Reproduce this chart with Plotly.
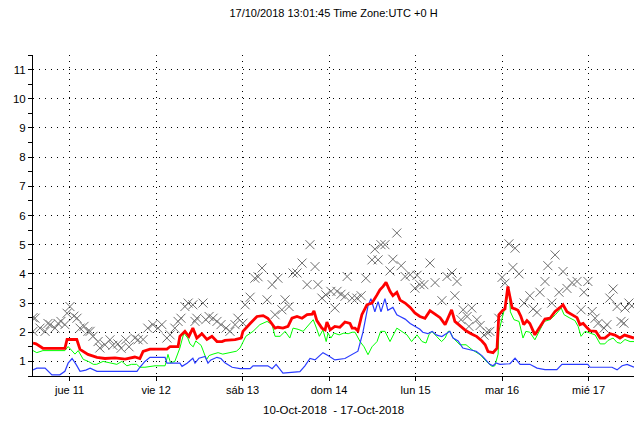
import pandas as pd
import plotly.graph_objects as go

BASE = pd.Timestamp("2018-10-10 00:00")

# hours since 2018-10-10 00:00 UTC and values
red_hours = [13.85, 14.7, 16.6, 22.7, 23.3, 26.0, 26.9, 29.1, 31.6, 33.8, 36.6, 39.4, 42.1, 43.5, 44.4, 46.3, 51.0, 51.9,
             54.1, 54.6, 56.0, 57.1, 58.2, 59.3, 60.7, 62.1, 63.5, 64.9, 66.3, 67.1, 69.9, 71.6, 72.1, 73.2, 74.1, 76.0,
             77.7, 79.0, 80.2, 81.0, 81.8, 83.2, 84.6, 85.7, 87.1, 88.5, 89.9, 91.3, 91.8, 92.6, 94.0, 94.9, 95.4, 96.3,
             97.6, 99.0, 100.4, 101.8, 102.4, 103.2, 104.0, 105.1, 106.5, 107.9, 109.3, 110.1, 111.0, 111.8, 112.9,
             113.7, 114.8, 115.7, 117.1, 118.5, 119.8, 121.2, 122.6, 124.0, 125.4, 126.8, 128.2, 129.0, 130.0, 130.9,
             132.5, 134.0, 135.4, 137.0, 138.4, 139.3, 140.1, 141.5, 142.6, 143.1, 144.2, 144.8, 145.6, 146.2, 146.8,
             147.6, 148.4, 149.2, 150.0, 150.9, 151.7, 153.1, 154.5, 155.9, 157.3, 158.7, 160.1, 160.9, 162.0, 163.4,
             164.8, 165.6, 166.5, 167.6, 168.4, 170.0, 171.2, 172.5, 174.0, 175.3, 176.7, 178.0, 180.0, 180.6]
red_values = [1.63, 1.6, 1.45, 1.45, 1.75, 1.75, 1.41, 1.24, 1.14, 1.1, 1.12, 1.08, 1.15, 1.1, 1.34, 1.42, 1.42, 1.51,
              1.51, 1.86, 2.03, 1.86, 2.14, 1.8, 1.95, 1.75, 1.86, 1.68, 1.68, 1.72, 1.75, 1.8, 2.03, 2.2, 2.3, 2.54,
              2.57, 2.48, 2.3, 2.14, 2.17, 2.14, 2.2, 2.48, 2.54, 2.48, 2.6, 2.62, 2.73, 2.4, 2.14, 2.08, 2.35, 2.08,
              2.2, 2.17, 2.35, 2.3, 2.14, 2.14, 2.05, 2.6, 2.94, 3.0, 3.28, 3.45, 3.57, 3.71, 3.4,
              3.25, 3.37, 3.1, 3.0, 2.85, 2.66, 2.54, 2.48, 2.74, 2.62, 2.5, 2.26, 2.5, 2.77, 2.37,
              2.2, 2.05, 1.95, 1.85, 1.7, 1.57, 1.34, 1.3, 1.45, 2.6, 2.75, 2.8, 3.57, 3.2, 2.83,
              2.8, 2.75, 2.55, 2.26, 2.4, 2.3, 1.91, 2.2, 2.45, 2.48, 2.71, 2.85, 2.94, 2.7, 2.6,
              2.5, 2.26, 2.3, 2.15, 2.05, 2.03, 1.8, 1.8, 1.95, 1.9, 1.8, 1.9, 1.82, 1.8]

green_hours = [13.85, 14.9, 16.6, 22.7, 23.6, 24.6, 25.5, 26.4, 27.8, 29.2, 30.6, 31.5, 33.3, 35.2, 37.1, 38.5, 39.9,
               41.2, 42.6, 43.5, 44.9, 47.7, 50.5, 51.3, 52.0, 53.2, 54.6, 55.7, 56.8, 57.4, 58.3, 59.0, 60.5, 62.0,
               62.7, 63.8, 65.2, 66.5, 68.5, 70.3, 71.3, 71.8, 72.9, 74.9, 76.8, 78.8, 80.2, 81.0, 82.4, 83.8, 85.1,
               86.0, 87.4, 88.8, 89.9, 91.6, 92.5, 93.3, 94.3, 95.2, 95.7, 96.5, 97.4, 98.8, 100.1, 101.3, 102.4,
               103.2, 104.6, 105.7, 106.8, 107.9, 109.3, 110.3, 111.5, 112.9, 114.8, 116.2, 117.6, 118.9, 120.4,
               121.8, 122.9, 123.7, 124.5, 125.8, 127.2, 128.2, 129.0, 129.5, 130.4, 132.3, 134.0, 135.7, 137.9,
               140.1, 141.2, 142.0, 142.9, 143.1, 144.3, 145.4, 146.0, 146.3, 147.3, 148.7, 149.8, 150.6, 151.7,
               153.1, 154.2, 155.7, 157.3, 158.8, 160.4, 161.2, 162.6, 164.2, 165.1, 165.9, 167.0, 168.2, 169.8,
               171.2, 172.5, 173.4, 174.8, 175.9, 176.9, 178.1, 179.5, 180.6]
green_values = [1.37, 1.3, 1.37, 1.37, 1.51, 1.37, 1.25, 1.37, 1.07, 1.0, 0.9, 0.9, 1.0, 0.95, 0.9, 1.0, 0.85,
                0.9, 0.9, 0.8, 0.8, 0.85, 0.85, 1.24, 0.95, 1.0, 1.46, 1.97, 1.8, 1.6, 1.5, 1.7, 1.55, 1.06,
                1.2, 1.25, 1.3, 1.25, 1.3, 1.35, 1.46, 1.6, 1.86, 2.03, 2.26, 2.37, 2.26, 1.86, 1.86, 2.03, 1.8,
                2.14, 2.1, 2.03, 2.2, 2.43, 2.14, 1.86, 2.08, 1.68, 1.97, 1.8, 1.97, 1.91, 1.97, 1.95, 2.0,
                2.0, 1.68, 1.5, 1.23, 1.5, 1.68, 2.03, 2.03, 1.68, 2.14, 2.03, 1.91, 1.68, 1.91,
                1.68, 1.63, 1.91, 2.03, 1.86, 1.68, 1.8, 2.03, 2.03, 1.8, 1.57, 1.57, 1.4, 1.23,
                0.94, 0.83, 0.85, 1.25, 2.03, 2.6, 3.1, 3.45, 2.7, 2.43, 2.37, 1.8, 2.03, 2.0,
                1.74, 2.0, 2.37, 2.43, 2.6, 2.83, 2.6, 2.5, 2.4, 2.2, 1.86, 2.03, 1.97, 1.91,
                1.6, 1.6, 1.72, 1.8, 1.65, 1.62, 1.75, 1.68, 1.68]

blue_hours = [13.85, 14.9, 17.2, 18.6, 19.1, 21.3, 22.7, 23.6, 24.7, 25.8, 26.9, 28.5, 29.7, 31.6, 42.7, 43.5, 44.9,
              46.3, 50.5, 51.0, 54.6, 55.2, 56.6, 58.2, 58.8, 59.9, 61.6, 62.4, 63.2, 64.9, 66.0, 67.1, 69.1, 71.3,
              74.1, 74.9, 79.0, 80.2, 81.3, 83.2, 87.9, 89.3, 90.7, 92.1, 94.3, 95.7, 97.6, 100.4, 102.4, 104.0,
              105.4, 106.8, 107.6, 108.7, 109.6, 110.4, 111.5, 112.3, 113.7, 114.8, 115.7, 117.1, 118.5, 119.8,
              121.2, 122.0, 123.4, 124.6, 125.9, 127.3, 128.7, 129.5, 130.4, 131.8, 133.1, 135.1, 136.8, 138.4,
              139.8, 140.6, 141.5, 142.3, 143.4, 146.2, 147.6, 149.0, 151.7, 153.7, 155.9, 159.2, 160.6, 167.8,
              168.4, 174.5, 175.9, 177.3, 178.7, 180.6]
blue_values = [0.71, 0.77, 0.77, 0.62, 0.54, 0.54, 0.66, 0.94, 1.1, 0.9, 0.66, 0.7, 0.77, 0.66, 0.66, 0.8, 1.0,
               1.14, 1.14, 0.94, 0.94, 0.83, 0.94, 1.11, 0.94, 1.11, 1.17, 0.94, 1.05, 1.14, 1.1, 0.95, 0.8, 0.75,
               0.75, 0.85, 0.85, 0.75, 0.9, 0.6, 0.65, 0.85, 1.1, 1.05, 1.3, 1.2, 1.05, 1.1, 1.25, 1.35,
               2.0, 2.9, 3.15, 2.7, 3.05, 2.7, 3.15, 2.75, 2.85, 2.6, 2.54, 2.45, 2.3, 2.2,
               2.1, 2.0, 1.95, 2.03, 1.9, 1.85, 1.95, 2.03, 1.8, 1.7, 1.46, 1.4, 1.35, 1.2,
               1.0, 0.9, 0.85, 0.95, 0.9, 0.92, 1.11, 0.9, 0.9, 0.77, 0.72, 0.72, 0.9, 0.9,
               0.8, 0.8, 0.71, 0.85, 0.9, 0.8]

x_hours = [13.85, 13.85, 14.4, 15.8, 17.2, 18.0, 18.6, 19.95, 20.8, 21.6, 22.7, 23.3, 24.1, 25.2, 26.05, 26.9, 28.0,
           29.1, 29.7, 30.5, 31.9, 32.4, 33.8, 35.2, 36.0, 37.4, 38.3, 39.6, 40.5, 42.1, 43.0, 44.4, 45.7, 47.1,
           48.5, 49.6, 51.0, 51.9, 53.2, 54.1, 54.9, 56.0, 56.9, 58.2, 58.8, 59.3, 61.0, 61.8, 62.7, 63.8, 64.9,
           66.0, 67.4, 68.5, 69.9, 70.7, 72.1, 72.7, 74.1, 75.4, 76.3, 77.4, 78.8, 80.2, 81.0, 81.8, 82.9, 83.8,
           84.9, 86.0, 87.1, 88.5, 89.9, 90.7, 92.1, 92.9, 94.0, 95.1, 96.5, 97.6, 98.2, 99.3, 100.4, 101.0,
           102.4, 103.7, 104.9, 106.2, 107.9, 108.7, 109.6, 110.4, 111.5, 112.9, 113.7, 114.8, 116.0, 117.1,
           118.5, 119.8, 120.4, 121.2, 122.3, 124.0, 125.4, 127.3, 128.7, 130.1, 130.9, 131.5, 132.6, 133.2,
           134.3, 134.8, 135.6, 137.0, 137.9, 139.0, 139.8, 140.6, 143.1, 144.0, 144.8, 145.9, 147.0, 147.6,
           148.7, 150.1, 151.7, 152.6, 153.7, 154.5, 155.9, 156.7, 157.8, 158.7, 159.8, 160.9, 162.0, 163.4,
           164.8, 165.9, 166.7, 167.8, 169.0, 169.8, 170.6, 172.3, 173.1, 173.9, 174.8, 175.9, 177.0, 177.8,
           178.1, 179.2, 180.0]
x_values = [2.03, 2.5, 2.48, 2.14, 2.03, 2.3, 2.26, 2.14, 2.3, 2.37, 2.26, 2.65, 2.88, 2.55, 2.48, 2.14, 2.2,
            2.03, 2.03, 1.86, 1.68, 1.46, 1.57, 1.74, 1.55, 1.6, 1.45, 1.74, 1.5, 1.8, 1.74, 1.75, 2.14, 2.26,
            2.14, 2.26, 1.8, 1.91, 2.14, 2.37, 2.48, 2.88, 3.0, 2.94, 2.37, 2.48, 3.0, 2.43, 2.54, 2.48, 2.37,
            2.26, 2.14, 2.03, 2.26, 2.48, 2.31, 2.94, 3.2, 3.85, 3.9, 4.2, 3.11, 3.63, 2.6, 3.85, 2.77, 3.11,
            2.88, 4.03, 4.03, 4.37, 3.63, 5.0, 4.25, 3.63, 3.17, 3.28, 3.4, 2.83, 3.4, 3.3, 3.23, 3.91,
            3.17, 3.17, 3.25, 3.85, 4.48, 4.85, 4.48, 5.0, 5.0, 4.1, 4.5, 5.4, 4.28, 3.91,
            3.97, 3.51, 3.95, 3.63, 3.63, 4.37, 3.7, 3.08, 3.91, 4.03, 3.25, 3.74, 2.43, 2.77,
            2.54, 2.2, 2.83, 2.43, 2.23, 1.9, 2.0, 2.03, 2.48, 3.88, 3.68, 5.03, 4.22, 4.88,
            4.0, 3.0, 3.25, 2.8, 2.68, 3.37, 3.74, 4.28, 3.0, 4.65, 3.37, 4.08, 3.5, 3.7,
            3.74, 2.77, 3.37, 3.74, 2.71, 2.48, 2.3, 2.14, 2.26, 3.17, 3.48, 2.88, 2.37, 2.31,
            2.83, 3.0, 2.9]

day_ticks = ["2018-10-11", "2018-10-12", "2018-10-13", "2018-10-14", "2018-10-15", "2018-10-16", "2018-10-17"]
day_labels = ["jue 11", "vie 12", "sáb 13", "dom 14", "lun 15", "mar 16", "mié 17"]
y_ticks = list(range(1, 12))

title_text = "17/10/2018 13:01:45 Time Zone:UTC +0 H"
xaxis_text = "10-Oct-2018  - 17-Oct-2018"


def to_time(hours):
    return BASE + pd.to_timedelta(pd.Series(hours), unit="h")


FONT = "Liberation Sans, Arial, sans-serif"

fig = go.Figure()
fig.add_trace(go.Scatter(x=to_time(x_hours), y=x_values, mode="markers",
                         marker=dict(symbol="x-thin", size=9, line=dict(color="#6e6e6e", width=1)),
                         hoverinfo="skip"))
fig.add_trace(go.Scatter(x=to_time(green_hours), y=green_values, mode="lines",
                         line=dict(color="#00ff00", width=1)))
fig.add_trace(go.Scatter(x=to_time(blue_hours), y=blue_values, mode="lines",
                         line=dict(color="#2a3cff", width=1.2)))
fig.add_trace(go.Scatter(x=to_time(red_hours), y=red_values, mode="lines",
                         line=dict(color="#ff0000", width=2.8)))

fig.update_layout(
    width=634, height=421,
    margin=dict(l=33, r=0, t=55, b=45),
    paper_bgcolor="white", plot_bgcolor="white",
    showlegend=False,
    font=dict(family=FONT, size=11, color="black"),
    title=dict(text=title_text, x=0.5, xref="paper", xanchor="center",
               y=1 - 13 / 421, yref="container", yanchor="middle",
               font=dict(family=FONT, size=11, color="black")),
    annotations=[dict(text=xaxis_text, xref="paper", yref="paper", x=0.5, y=-34 / 321,
                      xanchor="center", yanchor="middle", showarrow=False,
                      font=dict(family=FONT, size=11.5, color="black"))],
)
fig.update_xaxes(
    type="date",
    range=[BASE + pd.Timedelta(hours=13.85), BASE + pd.Timedelta(hours=180.6)],
    tickvals=day_ticks, ticktext=day_labels,
    ticks="outside", ticklen=4, tickcolor="black",
    showline=True, linecolor="black", linewidth=1,
    showgrid=True, gridcolor="black", gridwidth=1, griddash="1px,5px",
    zeroline=False, tickfont=dict(family=FONT, size=11, color="black"),
)
fig.update_yaxes(
    range=[0.5, 11.5],
    tickvals=y_ticks, ticktext=[str(v) for v in y_ticks],
    ticks="outside", ticklen=4, tickcolor="black",
    minor=dict(dtick=0.5, tick0=0.5, ticks="outside", ticklen=4, tickcolor="black", showgrid=False),
    showline=True, linecolor="black", linewidth=1,
    showgrid=True, gridcolor="black", gridwidth=1, griddash="1px,5px",
    zeroline=False, tickfont=dict(family=FONT, size=11.5, color="black"),
)

fig.write_html("out.html", config={"displayModeBar": False},
               post_script="document.body.style.margin='0';")
